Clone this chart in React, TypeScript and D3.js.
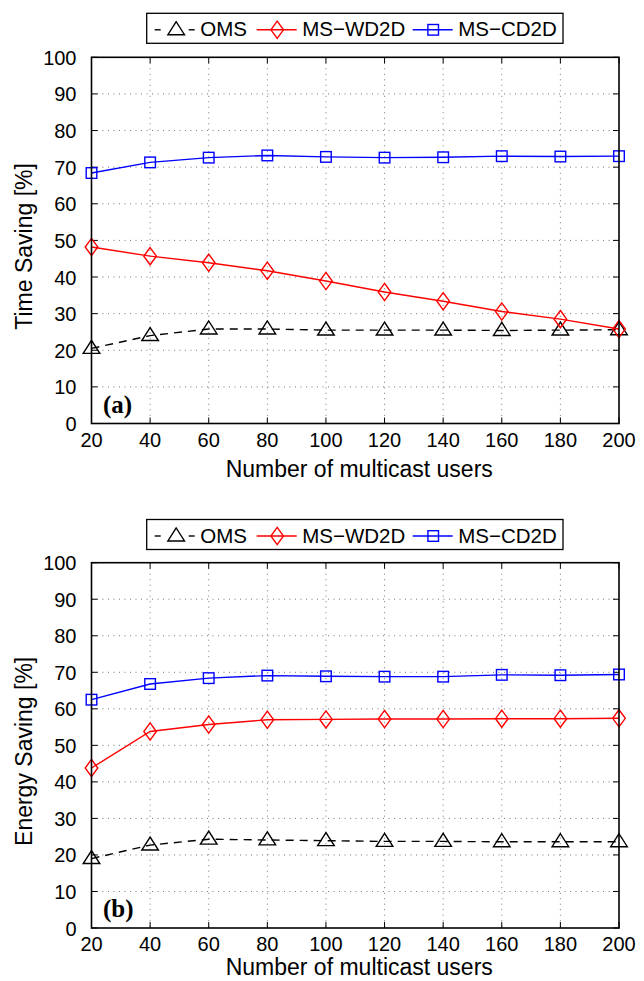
import React from "react";
import * as d3 from "d3";

// Number of multicast users (x axis)
const users = [20, 40, 60, 80, 100, 120, 140, 160, 180, 200];

// Panel (a): time saving [%]
const timeOMS = [20.5, 24.0, 25.8, 25.8, 25.5, 25.5, 25.5, 25.4, 25.5, 25.6];
const timeWD2D = [48.2, 45.7, 43.9, 41.7, 38.9, 35.9, 33.4, 30.6, 28.5, 25.8];
const timeCD2D = [68.4, 71.3, 72.6, 73.2, 72.8, 72.6, 72.7, 73.0, 72.9, 73.0];

// Panel (b): energy saving [%]
const energyOMS = [19.0, 22.7, 24.3, 24.1, 23.9, 23.7, 23.7, 23.6, 23.6, 23.6];
const energyWD2D = [43.8, 53.8, 55.7, 57.0, 57.1, 57.2, 57.2, 57.3, 57.3, 57.4];
const energyCD2D = [62.5, 66.8, 68.4, 69.1, 68.9, 68.8, 68.8, 69.3, 69.2, 69.4];

const seriesNames = ["OMS", "MS\u2212WD2D", "MS\u2212CD2D"];
const seriesColors = ["#000000", "#ff0000", "#0000ff"];
const yTicks = [0, 10, 20, 30, 40, 50, 60, 70, 80, 90, 100];

const FONT = "'Liberation Sans', Arial, Helvetica, sans-serif";
const W = 644;
const H = 981;

type MarkerKind = "triangle" | "diamond" | "square";
const markerKinds: MarkerKind[] = ["triangle", "diamond", "square"];

function Marker({ kind, x, y, color }: { kind: MarkerKind; x: number; y: number; color: string }) {
  if (kind === "triangle") {
    const w = 8.3, h = 13;
    const pts = `${x},${y - h * 0.62} ${x - w},${y + h * 0.38} ${x + w},${y + h * 0.38}`;
    return <polygon points={pts} fill="none" stroke={color} strokeWidth={1.4} />;
  }
  if (kind === "diamond") {
    const w = 6.3, h = 8.6;
    const pts = `${x},${y - h} ${x + w},${y} ${x},${y + h} ${x - w},${y}`;
    return <polygon points={pts} fill="none" stroke={color} strokeWidth={1.4} />;
  }
  const s = 5.3;
  return <rect x={x - s} y={y - s} width={2 * s} height={2 * s} fill="none" stroke={color} strokeWidth={1.4} />;
}

function Legend({ top }: { top: number }) {
  const left = 146.7;
  const boxW = 416.3;
  const boxH = 30;
  const cy = top + 16.5;
  const items = [
    { x0: 8, x1: 48, m: 29.5, t: 53.5 },
    { x0: 110, x1: 150, m: 130.5, t: 155.5 },
    { x0: 266, x1: 306, m: 286.5, t: 311.5 },
  ];
  return (
    <g>
      <rect x={left} y={top} width={boxW} height={boxH} fill="#fff" stroke="#000" strokeWidth={1.3} />
      {items.map((it, i) => (
        <g key={i}>
          {i === 0 ? (
            <g>
              <line x1={left + it.x0} x2={left + it.x0 + 6} y1={cy} y2={cy} stroke="#000" strokeWidth={1.4} />
              <line x1={left + it.x1 - 6} x2={left + it.x1} y1={cy} y2={cy} stroke="#000" strokeWidth={1.4} />
            </g>
          ) : (
            <line x1={left + it.x0} x2={left + it.x1} y1={cy} y2={cy} stroke={seriesColors[i]} strokeWidth={1.4} />
          )}
          <Marker kind={markerKinds[i]} x={left + it.m} y={cy} color={seriesColors[i]} />
          <text x={left + it.t} y={top + 23} fontSize={20.5} fontFamily={FONT} fill="#000">
            {seriesNames[i]}
          </text>
        </g>
      ))}
    </g>
  );
}

function Panel({
  top,
  bottom,
  legendTop,
  data,
  yLabel,
  tag,
  titleOffset,
}: {
  top: number;
  bottom: number;
  legendTop: number;
  data: number[][];
  yLabel: string;
  tag: string;
  titleOffset: number;
}) {
  const left = 91.5;
  const right = 619;
  const x = d3.scaleLinear().domain([20, 200]).range([left, right]);
  const y = d3.scaleLinear().domain([0, 100]).range([bottom, top]);
  const line = d3
    .line<number>()
    .x((_, i) => x(users[i]))
    .y((v) => y(v));
  const tickLen = 6;
  return (
    <g>
      {/* dotted grid */}
      {users.slice(1, -1).map((u) => (
        <line key={"gx" + u} x1={x(u)} x2={x(u)} y1={top} y2={bottom} stroke="#777" strokeWidth={1} strokeDasharray="1 4.5" />
      ))}
      {yTicks.slice(1, -1).map((t) => (
        <line key={"gy" + t} x1={left} x2={right} y1={y(t)} y2={y(t)} stroke="#777" strokeWidth={1} strokeDasharray="1 4.5" />
      ))}
      {/* ticks on all four sides */}
      {users.map((u) => (
        <g key={"tx" + u}>
          <line x1={x(u)} x2={x(u)} y1={bottom} y2={bottom - tickLen} stroke="#000" strokeWidth={1} />
          <line x1={x(u)} x2={x(u)} y1={top} y2={top + tickLen} stroke="#000" strokeWidth={1} />
        </g>
      ))}
      {yTicks.map((t) => (
        <g key={"ty" + t}>
          <line x1={left} x2={left + tickLen} y1={y(t)} y2={y(t)} stroke="#000" strokeWidth={1} />
          <line x1={right} x2={right - tickLen} y1={y(t)} y2={y(t)} stroke="#000" strokeWidth={1} />
        </g>
      ))}
      {/* series */}
      {data.map((vals, si) => (
        <g key={"s" + si}>
          <path
            d={line(vals) || ""}
            fill="none"
            stroke={seriesColors[si]}
            strokeWidth={1.4}
            strokeDasharray={si === 0 ? "8 6" : undefined}
          />
          {vals.map((v, i) => (
            <Marker key={i} kind={markerKinds[si]} x={x(users[i])} y={y(v)} color={seriesColors[si]} />
          ))}
        </g>
      ))}
      {/* frame */}
      <rect x={left} y={top} width={right - left} height={bottom - top} fill="none" stroke="#000" strokeWidth={1.6} />
      {/* tick labels */}
      {users.map((u) => (
        <text
          key={"lx" + u}
          x={x(u)}
          y={bottom + 23}
          textAnchor="middle"
          fontSize={20}
          fontFamily={FONT}
          fill="#000"
        >
          {u}
        </text>
      ))}
      {yTicks.map((t) => (
        <text
          key={"ly" + t}
          x={left - 15}
          y={y(t) + 7.5}
          textAnchor="end"
          fontSize={20}
          fontFamily={FONT}
          fill="#000"
        >
          {t}
        </text>
      ))}
      {/* axis titles */}
      <text
        x={(left + right) / 2 + 4}
        y={bottom + titleOffset}
        textAnchor="middle"
        fontSize={23}
        fontFamily={FONT}
        fill="#000"
      >
        Number of multicast users
      </text>
      <text
        transform={`translate(32,${(top + bottom) / 2 + 6}) rotate(-90)`}
        textAnchor="middle"
        fontSize={23}
        fontFamily={FONT}
        fill="#000"
      >
        {yLabel}
      </text>
      {/* panel tag */}
      <text
        x={103}
        y={bottom - 11}
        fontSize={25}
        fontWeight="bold"
        fontFamily="'Liberation Serif', 'Times New Roman', serif"
        fill="#000"
      >
        {tag}
      </text>
      <Legend top={legendTop} />
    </g>
  );
}

export default function App() {
  return (
    <svg
      width={W}
      height={H}
      viewBox={`0 0 ${W} ${H}`}
      style={{ position: "absolute", left: 0, top: 0, display: "block", background: "#fff" }}
    >
      <rect x={0} y={0} width={W} height={H} fill="#fff" />
      <Panel
        top={57.3}
        bottom={423.5}
        legendTop={13.3}
        data={[timeOMS, timeWD2D, timeCD2D]}
        yLabel="Time Saving [%]"
        tag="(a)"
        titleOffset={53}
      />
      <Panel
        top={562.7}
        bottom={928}
        legendTop={519.5}
        data={[energyOMS, energyWD2D, energyCD2D]}
        yLabel="Energy Saving [%]"
        tag="(b)"
        titleOffset={47}
      />
    </svg>
  );
}
